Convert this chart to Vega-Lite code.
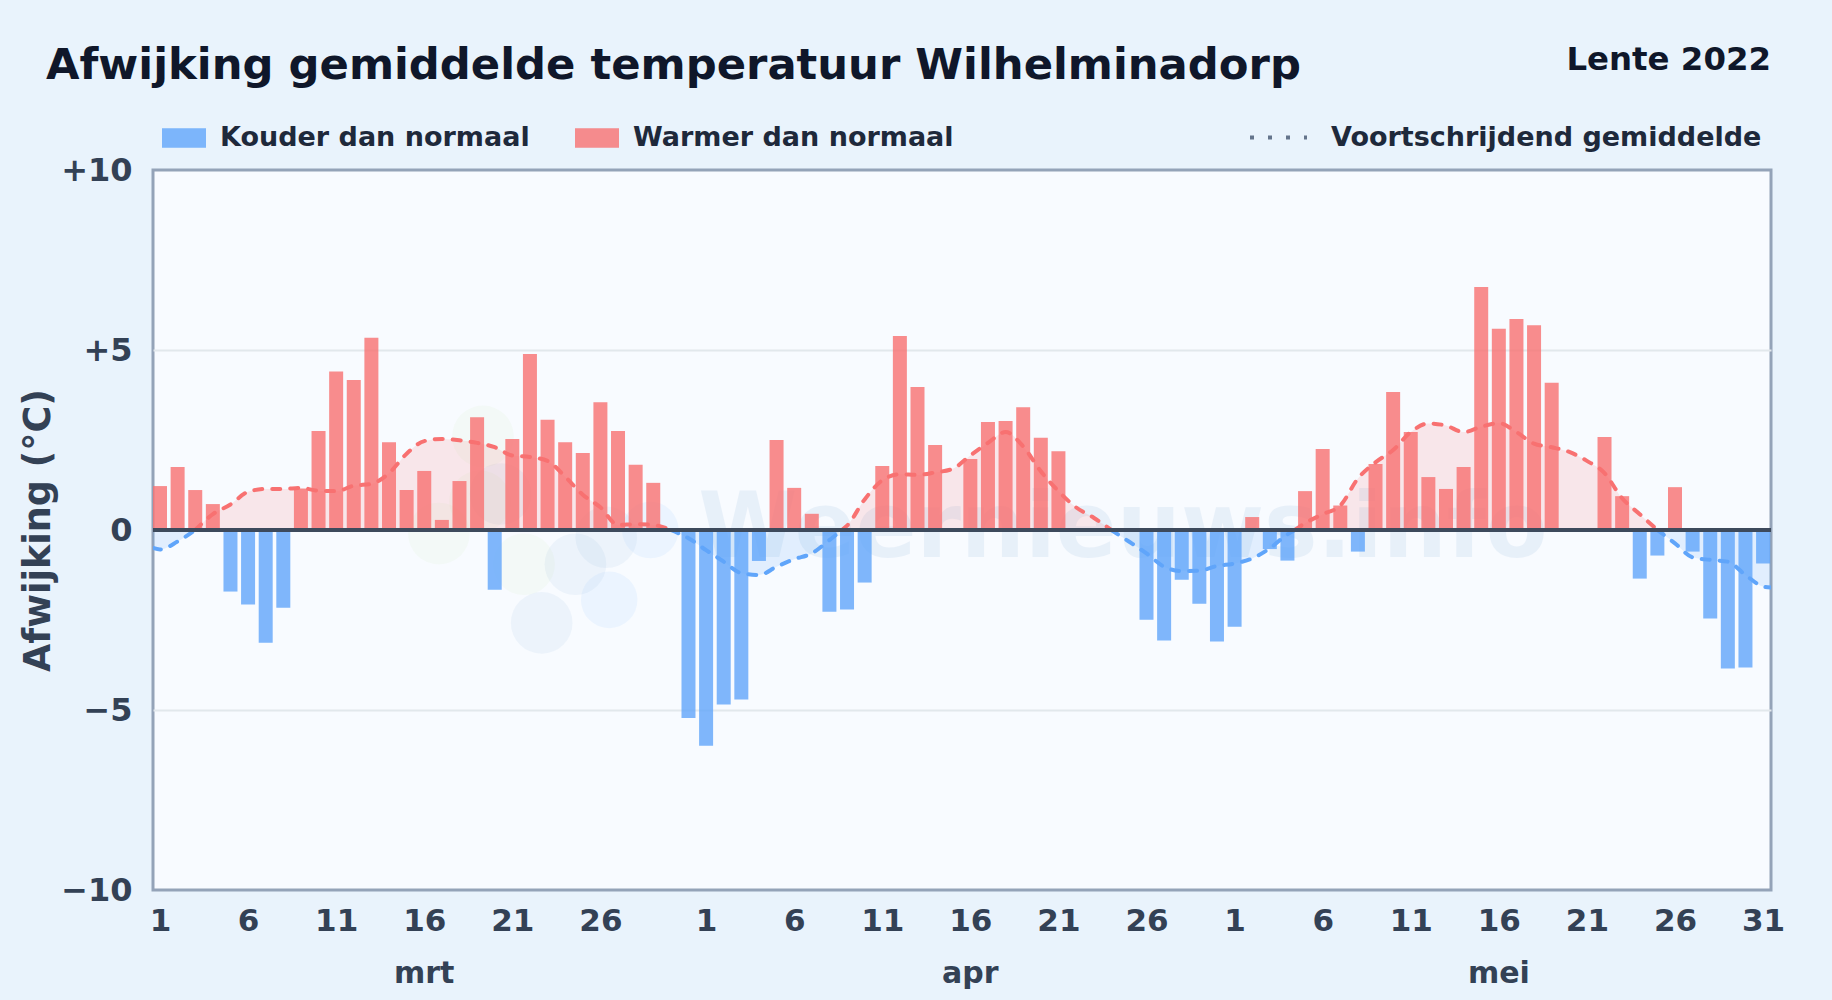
{
"$schema":"https://vega.github.io/schema/vega-lite/v6.json",
"width":1618,"height":720,
"autosize":{"type":"none"},
"padding":{"left":153,"top":170,"right":61,"bottom":110},
"background":"#e9f3fc",
"view":{"fill":"#f8fbff","stroke":"#94a3b8","strokeWidth":3},
"title":{"text":"Afwijking gemiddelde temperatuur Wilhelminadorp","anchor":"start","frame":"group","dx":-107,"dy":44,"offset":0,"fontSize":43.3,"font":"DejaVu Sans","fontWeight":"bold","color":"#0f172a"},
"datasets":{
"bars":[
{"date":"2022-03-01","dev":1.22,"kind":"Warmer dan normaal"},{"date":"2022-03-02","dev":1.75,"kind":"Warmer dan normaal"},{"date":"2022-03-03","dev":1.11,"kind":"Warmer dan normaal"},{"date":"2022-03-04","dev":0.72,"kind":"Warmer dan normaal"},{"date":"2022-03-05","dev":-1.71,"kind":"Kouder dan normaal"},{"date":"2022-03-06","dev":-2.07,"kind":"Kouder dan normaal"},{"date":"2022-03-07","dev":-3.13,"kind":"Kouder dan normaal"},{"date":"2022-03-08","dev":-2.16,"kind":"Kouder dan normaal"},{"date":"2022-03-09","dev":1.15,"kind":"Warmer dan normaal"},{"date":"2022-03-10","dev":2.75,"kind":"Warmer dan normaal"},{"date":"2022-03-11","dev":4.4,"kind":"Warmer dan normaal"},{"date":"2022-03-12","dev":4.17,"kind":"Warmer dan normaal"},{"date":"2022-03-13","dev":5.34,"kind":"Warmer dan normaal"},{"date":"2022-03-14","dev":2.44,"kind":"Warmer dan normaal"},{"date":"2022-03-15","dev":1.11,"kind":"Warmer dan normaal"},{"date":"2022-03-16","dev":1.64,"kind":"Warmer dan normaal"},{"date":"2022-03-17","dev":0.28,"kind":"Warmer dan normaal"},{"date":"2022-03-18","dev":1.36,"kind":"Warmer dan normaal"},{"date":"2022-03-19","dev":3.13,"kind":"Warmer dan normaal"},{"date":"2022-03-20","dev":-1.66,"kind":"Kouder dan normaal"},{"date":"2022-03-21","dev":2.53,"kind":"Warmer dan normaal"},{"date":"2022-03-22","dev":4.89,"kind":"Warmer dan normaal"},{"date":"2022-03-23","dev":3.06,"kind":"Warmer dan normaal"},{"date":"2022-03-24","dev":2.44,"kind":"Warmer dan normaal"},{"date":"2022-03-25","dev":2.14,"kind":"Warmer dan normaal"},{"date":"2022-03-26","dev":3.55,"kind":"Warmer dan normaal"},{"date":"2022-03-27","dev":2.75,"kind":"Warmer dan normaal"},{"date":"2022-03-28","dev":1.81,"kind":"Warmer dan normaal"},{"date":"2022-03-29","dev":1.31,"kind":"Warmer dan normaal"},
{"date":"2022-03-31","dev":-5.22,"kind":"Kouder dan normaal"},{"date":"2022-04-01","dev":-5.99,"kind":"Kouder dan normaal"},{"date":"2022-04-02","dev":-4.85,"kind":"Kouder dan normaal"},{"date":"2022-04-03","dev":-4.71,"kind":"Kouder dan normaal"},{"date":"2022-04-04","dev":-0.86,"kind":"Kouder dan normaal"},{"date":"2022-04-05","dev":2.5,"kind":"Warmer dan normaal"},{"date":"2022-04-06","dev":1.17,"kind":"Warmer dan normaal"},{"date":"2022-04-07","dev":0.45,"kind":"Warmer dan normaal"},{"date":"2022-04-08","dev":-2.27,"kind":"Kouder dan normaal"},{"date":"2022-04-09","dev":-2.21,"kind":"Kouder dan normaal"},{"date":"2022-04-10","dev":-1.46,"kind":"Kouder dan normaal"},{"date":"2022-04-11","dev":1.78,"kind":"Warmer dan normaal"},{"date":"2022-04-12","dev":5.39,"kind":"Warmer dan normaal"},{"date":"2022-04-13","dev":3.97,"kind":"Warmer dan normaal"},{"date":"2022-04-14","dev":2.36,"kind":"Warmer dan normaal"},
{"date":"2022-04-16","dev":1.97,"kind":"Warmer dan normaal"},{"date":"2022-04-17","dev":3.0,"kind":"Warmer dan normaal"},{"date":"2022-04-18","dev":3.03,"kind":"Warmer dan normaal"},{"date":"2022-04-19","dev":3.41,"kind":"Warmer dan normaal"},{"date":"2022-04-20","dev":2.56,"kind":"Warmer dan normaal"},{"date":"2022-04-21","dev":2.19,"kind":"Warmer dan normaal"},
{"date":"2022-04-26","dev":-2.49,"kind":"Kouder dan normaal"},{"date":"2022-04-27","dev":-3.07,"kind":"Kouder dan normaal"},{"date":"2022-04-28","dev":-1.38,"kind":"Kouder dan normaal"},{"date":"2022-04-29","dev":-2.05,"kind":"Kouder dan normaal"},{"date":"2022-04-30","dev":-3.1,"kind":"Kouder dan normaal"},{"date":"2022-05-01","dev":-2.69,"kind":"Kouder dan normaal"},{"date":"2022-05-02","dev":0.36,"kind":"Warmer dan normaal"},{"date":"2022-05-03","dev":-0.53,"kind":"Kouder dan normaal"},{"date":"2022-05-04","dev":-0.85,"kind":"Kouder dan normaal"},{"date":"2022-05-05","dev":1.08,"kind":"Warmer dan normaal"},{"date":"2022-05-06","dev":2.25,"kind":"Warmer dan normaal"},{"date":"2022-05-07","dev":0.68,"kind":"Warmer dan normaal"},{"date":"2022-05-08","dev":-0.6,"kind":"Kouder dan normaal"},{"date":"2022-05-09","dev":1.83,"kind":"Warmer dan normaal"},{"date":"2022-05-10","dev":3.83,"kind":"Warmer dan normaal"},{"date":"2022-05-11","dev":2.72,"kind":"Warmer dan normaal"},{"date":"2022-05-12","dev":1.47,"kind":"Warmer dan normaal"},{"date":"2022-05-13","dev":1.14,"kind":"Warmer dan normaal"},{"date":"2022-05-14","dev":1.75,"kind":"Warmer dan normaal"},{"date":"2022-05-15","dev":6.75,"kind":"Warmer dan normaal"},{"date":"2022-05-16","dev":5.59,"kind":"Warmer dan normaal"},{"date":"2022-05-17","dev":5.86,"kind":"Warmer dan normaal"},{"date":"2022-05-18","dev":5.69,"kind":"Warmer dan normaal"},{"date":"2022-05-19","dev":4.09,"kind":"Warmer dan normaal"},
{"date":"2022-05-21","dev":-0.05,"kind":"Kouder dan normaal"},{"date":"2022-05-22","dev":2.58,"kind":"Warmer dan normaal"},{"date":"2022-05-23","dev":0.94,"kind":"Warmer dan normaal"},{"date":"2022-05-24","dev":-1.35,"kind":"Kouder dan normaal"},{"date":"2022-05-25","dev":-0.71,"kind":"Kouder dan normaal"},{"date":"2022-05-26","dev":1.19,"kind":"Warmer dan normaal"},{"date":"2022-05-27","dev":-0.6,"kind":"Kouder dan normaal"},{"date":"2022-05-28","dev":-2.46,"kind":"Kouder dan normaal"},{"date":"2022-05-29","dev":-3.85,"kind":"Kouder dan normaal"},{"date":"2022-05-30","dev":-3.82,"kind":"Kouder dan normaal"},{"date":"2022-05-31","dev":-0.93,"kind":"Kouder dan normaal"}
],
"avg":[
{"date":"2022-02-28T14:30:00Z","avg":-0.5,"run":1,"kind":"Kouder dan normaal"},{"date":"2022-03-01","avg":-0.54,"run":1,"kind":"Kouder dan normaal"},{"date":"2022-03-02","avg":-0.32,"run":1,"kind":"Kouder dan normaal"},{"date":"2022-03-03","avg":0,"run":1,"kind":"Kouder dan normaal"},
{"date":"2022-03-03","avg":0,"run":2,"kind":"Warmer dan normaal"},{"date":"2022-03-04","avg":0.44,"run":2,"kind":"Warmer dan normaal"},{"date":"2022-03-05","avg":0.71,"run":2,"kind":"Warmer dan normaal"},{"date":"2022-03-06","avg":1.06,"run":2,"kind":"Warmer dan normaal"},{"date":"2022-03-07","avg":1.14,"run":2,"kind":"Warmer dan normaal"},{"date":"2022-03-08","avg":1.14,"run":2,"kind":"Warmer dan normaal"},{"date":"2022-03-09","avg":1.17,"run":2,"kind":"Warmer dan normaal"},{"date":"2022-03-10","avg":1.09,"run":2,"kind":"Warmer dan normaal"},{"date":"2022-03-11","avg":1.08,"run":2,"kind":"Warmer dan normaal"},{"date":"2022-03-12","avg":1.23,"run":2,"kind":"Warmer dan normaal"},{"date":"2022-03-13","avg":1.28,"run":2,"kind":"Warmer dan normaal"},{"date":"2022-03-14","avg":1.58,"run":2,"kind":"Warmer dan normaal"},{"date":"2022-03-15","avg":2.12,"run":2,"kind":"Warmer dan normaal"},{"date":"2022-03-16","avg":2.47,"run":2,"kind":"Warmer dan normaal"},{"date":"2022-03-17","avg":2.53,"run":2,"kind":"Warmer dan normaal"},{"date":"2022-03-18","avg":2.49,"run":2,"kind":"Warmer dan normaal"},{"date":"2022-03-19","avg":2.42,"run":2,"kind":"Warmer dan normaal"},{"date":"2022-03-20","avg":2.3,"run":2,"kind":"Warmer dan normaal"},{"date":"2022-03-21","avg":2.07,"run":2,"kind":"Warmer dan normaal"},{"date":"2022-03-22","avg":2.03,"run":2,"kind":"Warmer dan normaal"},{"date":"2022-03-23","avg":1.92,"run":2,"kind":"Warmer dan normaal"},{"date":"2022-03-24","avg":1.48,"run":2,"kind":"Warmer dan normaal"},{"date":"2022-03-25","avg":0.98,"run":2,"kind":"Warmer dan normaal"},{"date":"2022-03-26","avg":0.63,"run":2,"kind":"Warmer dan normaal"},{"date":"2022-03-27","avg":0.14,"run":2,"kind":"Warmer dan normaal"},{"date":"2022-03-28","avg":0.16,"run":2,"kind":"Warmer dan normaal"},{"date":"2022-03-29","avg":0.14,"run":2,"kind":"Warmer dan normaal"},{"date":"2022-03-30","avg":0,"run":2,"kind":"Warmer dan normaal"},
{"date":"2022-03-30","avg":0,"run":3,"kind":"Kouder dan normaal"},{"date":"2022-03-31","avg":-0.23,"run":3,"kind":"Kouder dan normaal"},{"date":"2022-04-01","avg":-0.56,"run":3,"kind":"Kouder dan normaal"},{"date":"2022-04-02","avg":-0.88,"run":3,"kind":"Kouder dan normaal"},{"date":"2022-04-03","avg":-1.2,"run":3,"kind":"Kouder dan normaal"},{"date":"2022-04-04","avg":-1.25,"run":3,"kind":"Kouder dan normaal"},{"date":"2022-04-05","avg":-1.02,"run":3,"kind":"Kouder dan normaal"},{"date":"2022-04-06","avg":-0.81,"run":3,"kind":"Kouder dan normaal"},{"date":"2022-04-07","avg":-0.65,"run":3,"kind":"Kouder dan normaal"},{"date":"2022-04-08","avg":-0.28,"run":3,"kind":"Kouder dan normaal"},{"date":"2022-04-08T17:00:00Z","avg":0,"run":3,"kind":"Kouder dan normaal"},
{"date":"2022-04-08T17:00:00Z","avg":0,"run":4,"kind":"Warmer dan normaal"},{"date":"2022-04-09","avg":0.12,"run":4,"kind":"Warmer dan normaal"},{"date":"2022-04-10","avg":0.85,"run":4,"kind":"Warmer dan normaal"},{"date":"2022-04-11","avg":1.38,"run":4,"kind":"Warmer dan normaal"},{"date":"2022-04-12","avg":1.55,"run":4,"kind":"Warmer dan normaal"},{"date":"2022-04-13","avg":1.53,"run":4,"kind":"Warmer dan normaal"},{"date":"2022-04-14","avg":1.6,"run":4,"kind":"Warmer dan normaal"},{"date":"2022-04-15","avg":1.7,"run":4,"kind":"Warmer dan normaal"},{"date":"2022-04-16","avg":2.07,"run":4,"kind":"Warmer dan normaal"},{"date":"2022-04-17","avg":2.42,"run":4,"kind":"Warmer dan normaal"},{"date":"2022-04-18","avg":2.72,"run":4,"kind":"Warmer dan normaal"},{"date":"2022-04-19","avg":2.32,"run":4,"kind":"Warmer dan normaal"},{"date":"2022-04-20","avg":1.63,"run":4,"kind":"Warmer dan normaal"},{"date":"2022-04-21","avg":1.08,"run":4,"kind":"Warmer dan normaal"},{"date":"2022-04-22","avg":0.63,"run":4,"kind":"Warmer dan normaal"},{"date":"2022-04-23","avg":0.34,"run":4,"kind":"Warmer dan normaal"},{"date":"2022-04-24","avg":0,"run":4,"kind":"Warmer dan normaal"},
{"date":"2022-04-24","avg":0,"run":5,"kind":"Kouder dan normaal"},{"date":"2022-04-25","avg":-0.32,"run":5,"kind":"Kouder dan normaal"},{"date":"2022-04-26","avg":-0.65,"run":5,"kind":"Kouder dan normaal"},{"date":"2022-04-27","avg":-1.02,"run":5,"kind":"Kouder dan normaal"},{"date":"2022-04-28","avg":-1.14,"run":5,"kind":"Kouder dan normaal"},{"date":"2022-04-29","avg":-1.13,"run":5,"kind":"Kouder dan normaal"},{"date":"2022-04-30","avg":-1.0,"run":5,"kind":"Kouder dan normaal"},{"date":"2022-05-01","avg":-0.93,"run":5,"kind":"Kouder dan normaal"},{"date":"2022-05-02","avg":-0.79,"run":5,"kind":"Kouder dan normaal"},{"date":"2022-05-03","avg":-0.51,"run":5,"kind":"Kouder dan normaal"},{"date":"2022-05-04","avg":-0.12,"run":5,"kind":"Kouder dan normaal"},{"date":"2022-05-04T10:00:00Z","avg":0,"run":5,"kind":"Kouder dan normaal"},
{"date":"2022-05-04T10:00:00Z","avg":0,"run":6,"kind":"Warmer dan normaal"},{"date":"2022-05-05","avg":0.19,"run":6,"kind":"Warmer dan normaal"},{"date":"2022-05-06","avg":0.44,"run":6,"kind":"Warmer dan normaal"},{"date":"2022-05-07","avg":0.68,"run":6,"kind":"Warmer dan normaal"},{"date":"2022-05-08","avg":1.43,"run":6,"kind":"Warmer dan normaal"},{"date":"2022-05-09","avg":1.88,"run":6,"kind":"Warmer dan normaal"},{"date":"2022-05-10","avg":2.22,"run":6,"kind":"Warmer dan normaal"},{"date":"2022-05-11","avg":2.72,"run":6,"kind":"Warmer dan normaal"},{"date":"2022-05-12","avg":2.96,"run":6,"kind":"Warmer dan normaal"},{"date":"2022-05-13","avg":2.9,"run":6,"kind":"Warmer dan normaal"},{"date":"2022-05-14","avg":2.72,"run":6,"kind":"Warmer dan normaal"},{"date":"2022-05-15","avg":2.87,"run":6,"kind":"Warmer dan normaal"},{"date":"2022-05-16","avg":2.97,"run":6,"kind":"Warmer dan normaal"},{"date":"2022-05-17","avg":2.72,"run":6,"kind":"Warmer dan normaal"},{"date":"2022-05-18","avg":2.4,"run":6,"kind":"Warmer dan normaal"},{"date":"2022-05-19","avg":2.3,"run":6,"kind":"Warmer dan normaal"},{"date":"2022-05-20","avg":2.17,"run":6,"kind":"Warmer dan normaal"},{"date":"2022-05-21","avg":1.92,"run":6,"kind":"Warmer dan normaal"},{"date":"2022-05-22","avg":1.58,"run":6,"kind":"Warmer dan normaal"},{"date":"2022-05-23","avg":0.88,"run":6,"kind":"Warmer dan normaal"},{"date":"2022-05-24","avg":0.44,"run":6,"kind":"Warmer dan normaal"},{"date":"2022-05-25","avg":0,"run":6,"kind":"Warmer dan normaal"},
{"date":"2022-05-25","avg":0,"run":7,"kind":"Kouder dan normaal"},{"date":"2022-05-26","avg":-0.37,"run":7,"kind":"Kouder dan normaal"},{"date":"2022-05-27","avg":-0.76,"run":7,"kind":"Kouder dan normaal"},{"date":"2022-05-28","avg":-0.83,"run":7,"kind":"Kouder dan normaal"},{"date":"2022-05-29","avg":-0.88,"run":7,"kind":"Kouder dan normaal"},{"date":"2022-05-30","avg":-1.25,"run":7,"kind":"Kouder dan normaal"},{"date":"2022-05-31","avg":-1.57,"run":7,"kind":"Kouder dan normaal"},{"date":"2022-05-31T10:48:00Z","avg":-1.6,"run":7,"kind":"Kouder dan normaal"}
],
"months":[{"date":"2022-03-16","label":"mrt"},{"date":"2022-04-16","label":"apr"},{"date":"2022-05-16","label":"mei"}]
},
"data":{"name":"bars"},
"encoding":{
"x":{"field":"date","type":"temporal","title":null,
"scale":{"type":"utc","padding":0,"domain":["2022-02-28T14:28:00Z","2022-05-31T10:48:00Z"]},
"axis":{"values":["2022-03-01","2022-03-06","2022-03-11","2022-03-16","2022-03-21","2022-03-26","2022-04-01","2022-04-06","2022-04-11","2022-04-16","2022-04-21","2022-04-26","2022-05-01","2022-05-06","2022-05-11","2022-05-16","2022-05-21","2022-05-26","2022-05-31"],"labelExpr":"utcdate(datum.value)","grid":false,"ticks":false,"domain":false,"labelFont":"DejaVu Sans","labelFontWeight":"bold","labelFontSize":31,"labelColor":"#334155","labelPadding":16,"labelOverlap":false,"labelFlush":false,"labelAlign":"center","labelBound":false}},
"y":{"type":"quantitative","title":"Afwijking (°C)","scale":{"domain":[-10,10],"nice":false},
"axis":{"values":[-10,-5,0,5,10],"labelExpr":"datum.value>0?'+'+datum.value:(datum.value<0?'−'+abs(datum.value):'0')","grid":true,"gridColor":{"condition":{"test":"abs(datum.value)==5","value":"#e2e8ec"},"value":"transparent"},"gridWidth":2,"ticks":false,"domain":false,"labelFont":"DejaVu Sans","labelFontWeight":"bold","labelFontSize":32,"labelColor":"#334155","labelPadding":21,"labelOverlap":false,"labelBound":false,"labelFlush":false,"titleFont":"DejaVu Sans","titleFontWeight":"bold","titleFontSize":36.5,"titleColor":"#334155","titlePadding":3}}
},
"layer":[
{"data":{"values":[{"date":"2022-03-19T08:00:00Z","v":2.6},{"date":"2022-03-19T04:00:00Z","v":0.8},{"date":"2022-03-16T20:00:00Z","v":-0.1},{"date":"2022-03-21T16:00:00Z","v":-0.95}]},"mark":{"type":"point","filled":true,"shape":"circle","size":3800,"color":"#a3d977","opacity":0.06},"encoding":{"x":{"field":"date","type":"temporal"},"y":{"field":"v","type":"quantitative"}}},
{"data":{"values":[{"date":"2022-03-22T16:00:00Z","v":-2.58},{"date":"2022-03-24T14:00:00Z","v":-0.95},{"date":"2022-03-26T08:00:00Z","v":-0.2},{"date":"2022-03-20T08:00:00Z","v":1.0}]},"mark":{"type":"point","filled":true,"shape":"circle","size":3800,"color":"#7ba3cf","opacity":0.09},"encoding":{"x":{"field":"date","type":"temporal"},"y":{"field":"v","type":"quantitative"}}},
{"data":{"values":[{"date":"2022-03-26T12:00:00Z","v":-1.94},{"date":"2022-03-28T20:00:00Z","v":0}]},"mark":{"type":"point","filled":true,"shape":"circle","size":3200,"color":"#93c5fd","opacity":0.12},"encoding":{"x":{"field":"date","type":"temporal"},"y":{"field":"v","type":"quantitative"}}},
{"data":{"values":[{"date":"2022-04-24T16:00:00Z","v":0,"t":"Weernieuws.info"}]},"mark":{"type":"text","font":"DejaVu Sans","fontSize":90,"fontWeight":"bold","color":"#1e6bb8","opacity":0.07,"baseline":"middle","align":"center"},"encoding":{"x":{"field":"date","type":"temporal"},"y":{"field":"v","type":"quantitative"},"text":{"field":"t"}}},
{"data":{"name":"avg"},"mark":{"type":"area","interpolate":"monotone","opacity":0.15,"clip":true},"encoding":{"y":{"field":"avg","type":"quantitative"},"y2":{"datum":0},"fill":{"field":"kind","type":"nominal","scale":{"domain":["Warmer dan normaal","Kouder dan normaal"],"range":["#f87171","#60a5fa"]},"legend":null},"detail":{"field":"run"}}},
{"mark":{"type":"bar","width":14,"opacity":0.8},"encoding":{"y":{"field":"dev","type":"quantitative"},"y2":{"datum":0},"color":{"field":"kind","type":"nominal","scale":{"domain":["Kouder dan normaal","Warmer dan normaal"],"range":["#60a5fa","#f87171"]},"legend":{"title":null,"orient":"none","legendX":9,"legendY":-54,"direction":"horizontal","columns":2,"padding":0,"columnPadding":45,"labelOffset":14,"labelFont":"DejaVu Sans","labelFontWeight":"bold","labelFontSize":27,"labelColor":"#1e293b","symbolType":"M-1,-0.44H1V0.44H-1Z","symbolSize":1936,"symbolOpacity":0.8,"symbolStrokeWidth":0,"labelLimit":500}}}},
{"data":{"name":"avg"},"mark":{"type":"line","interpolate":"monotone","strokeWidth":4,"strokeCap":"round","strokeDash":[8,10],"clip":true},"encoding":{"y":{"field":"avg","type":"quantitative"},"stroke":{"field":"kind","type":"nominal","scale":{"domain":["Warmer dan normaal","Kouder dan normaal"],"range":["#f87171","#60a5fa"]},"legend":null},"detail":{"field":"run"}}},
{"data":{"values":[{"date":"2022-04-16","avg":0,"series":"Voortschrijdend gemiddelde"}]},"mark":{"type":"line","strokeWidth":4},"encoding":{"y":{"field":"avg","type":"quantitative"},"strokeDash":{"field":"series","type":"nominal","scale":{"range":[[4,14]]},"legend":{"title":null,"orient":"none","legendX":1095,"legendY":-63,"padding":0,"labelOffset":22,"labelFont":"DejaVu Sans","labelFontWeight":"bold","labelFontSize":27,"labelColor":"#1e293b","symbolType":"stroke","symbolSize":3249,"symbolStrokeWidth":4,"symbolStrokeColor":"#64748b","labelLimit":600}}}},
{"mark":{"type":"rule","color":"#3d4a5c","strokeWidth":4},"data":{"values":[{"v":0}]},"encoding":{"y":{"field":"v","type":"quantitative"},"x":null}},
{"data":{"name":"months"},"mark":{"type":"text","font":"DejaVu Sans","fontWeight":"bold","fontSize":30,"color":"#334155","dy":84,"baseline":"middle"},"encoding":{"x":{"field":"date","type":"temporal"},"y":{"datum":-10},"text":{"field":"label"}}},
{"data":{"values":[{"date":"2022-05-31T10:48:00Z","t":"Lente 2022"}]},"mark":{"type":"text","font":"DejaVu Sans","fontWeight":"bold","fontSize":32.4,"color":"#0f172a","align":"right","baseline":"middle","dy":-110},"encoding":{"x":{"field":"date","type":"temporal"},"y":{"datum":10},"text":{"field":"t"}}}
]
}
